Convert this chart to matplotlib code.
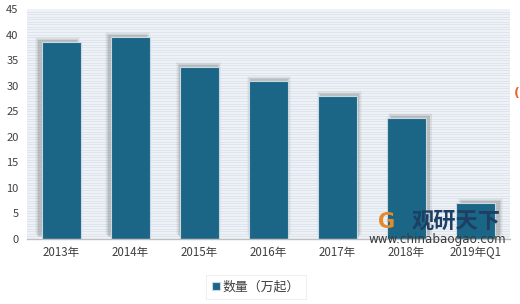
import matplotlib
matplotlib.use("Agg")
import matplotlib.pyplot as plt
import matplotlib.transforms as mtransforms

plt.rcParams['font.family'] = ['Noto Sans CJK SC', 'DejaVu Sans']

categories = ["2013年", "2014年", "2015年", "2016年", "2017年", "2018年", "2019年Q1"]
values = [38.5, 39.5, 33.6, 31.0, 27.9, 23.6, 7.1]
series_name = "数量（万起）"
yticks = [0, 5, 10, 15, 20, 25, 30, 35, 40, 45]

fig = plt.figure(figsize=(5.2, 3.04), dpi=100)
ax = fig.add_axes([27/520, 65/304, 483/520, 230/304])
ax.set_facecolor('#eef2f7')
ax.set_xlim(-0.5, len(categories) - 0.5)
ax.set_ylim(0, 45)

# striped background
y = 0.5
while y < 45:
    ax.axhline(y, color='#dce3eb', lw=0.6, zorder=0)
    y += 0.5

x = list(range(len(categories)))
bar_w = 0.56
# soft shadows
for i, v in enumerate(values):
    dx = (i - 2.7) * 1.6
    for grow, alpha in [(6, 0.06), (4, 0.08), (2, 0.12), (0, 0.18)]:
        tr = ax.transData + mtransforms.ScaledTranslation(dx / 100, (2 + grow / 2) / 100,
                                                          fig.dpi_scale_trans)
        ax.bar(i, v, width=bar_w + grow / 69.0, color='#6e6e6e', alpha=alpha,
               transform=tr, zorder=1, linewidth=0)

ax.bar(x, values, width=bar_w, color='#1b6586', edgecolor='#c9d9e3', linewidth=0.8, zorder=3,
       label=series_name)

for s in ['left', 'right', 'top']:
    ax.spines[s].set_visible(False)
ax.spines['bottom'].set_color('#bfbfbf')
ax.spines['bottom'].set_linewidth(1.0)
ax.spines['bottom'].set_zorder(4)

ax.set_yticks(yticks)
ax.set_yticklabels([str(t) for t in yticks], fontsize=8, color='#404040')
ax.set_xticks(x)
ax.set_xticklabels(categories, fontsize=8.3, color='#404040')
ax.tick_params(axis='both', length=0)
ax.tick_params(axis='y', pad=6)
ax.tick_params(axis='x', pad=5)

# legend
leg = fig.legend(loc='center', bbox_to_anchor=(256/520, 1 - 287/304), frameon=True,
                 fontsize=9.3, handlelength=0.6, handleheight=0.6, handletextpad=0.25,
                 borderpad=0.45, fancybox=False, shadow=False)
leg.get_frame().set_edgecolor('#e8e8e8')
leg.get_frame().set_linewidth(0.6)
for t in leg.get_texts():
    t.set_color('#404040')

# watermark
fig.text(456/520, 1 - 221/304, "观研天下", fontsize=16, fontweight='bold', color='#1d3f63',
         ha='center', va='center')
fig.text(437/520, 1 - 240/304, "www.chinabaogao.com", fontsize=8.6, color='#3a3a3a',
         ha='center', va='center', family=['DejaVu Sans'])
fig.text(387/520, 1 - 222/304, "G", fontsize=15, fontweight='bold', color='#e58a2a',
         ha='center', va='center', family=['DejaVu Sans'])
fig.text(517/520, 1 - 94/304, "(", fontsize=9, fontweight='bold', color='#e8662a',
         ha='center', va='center', family=['DejaVu Sans'])

fig.savefig("out.png", dpi=100)
